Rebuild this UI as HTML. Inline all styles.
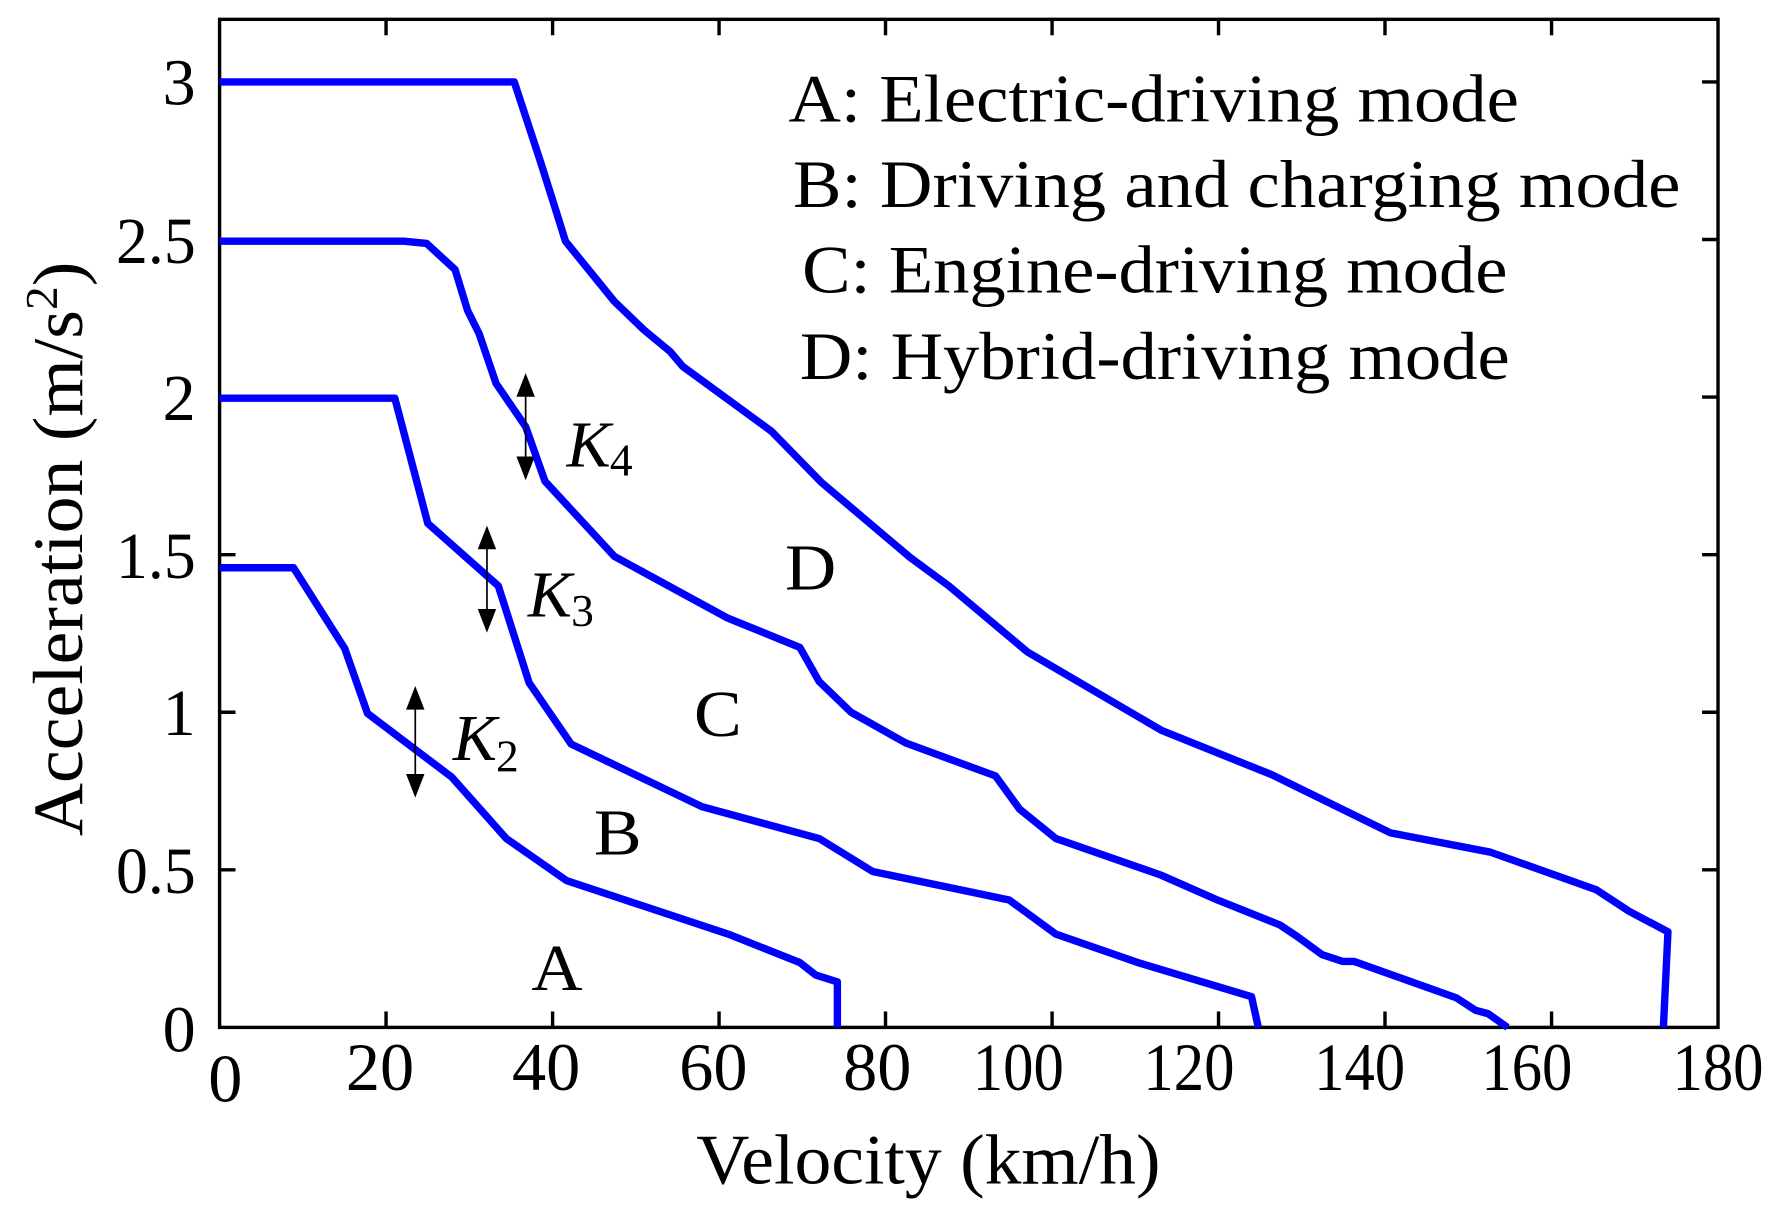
<!DOCTYPE html>
<html><head><style>html,body{margin:0;padding:0;background:#fff}svg{display:block}</style></head>
<body>
<svg width="1784" height="1219" viewBox="0 0 1568 1071.4" preserveAspectRatio="none" xmlns="http://www.w3.org/2000/svg" font-family="Liberation Serif, serif">
<rect x="193" y="17" width="1317" height="886" fill="none" stroke="#000" stroke-width="3"/>
<g stroke="#000" stroke-width="3">
<line x1="339.3" y1="903" x2="339.3" y2="889"/><line x1="485.7" y1="903" x2="485.7" y2="889"/><line x1="632" y1="903" x2="632" y2="889"/><line x1="778.3" y1="903" x2="778.3" y2="889"/><line x1="924.7" y1="903" x2="924.7" y2="889"/><line x1="1071" y1="903" x2="1071" y2="889"/><line x1="1217.3" y1="903" x2="1217.3" y2="889"/><line x1="1363.7" y1="903" x2="1363.7" y2="889"/>
<line x1="339.3" y1="17" x2="339.3" y2="31"/><line x1="485.7" y1="17" x2="485.7" y2="31"/><line x1="632" y1="17" x2="632" y2="31"/><line x1="778.3" y1="17" x2="778.3" y2="31"/><line x1="924.7" y1="17" x2="924.7" y2="31"/><line x1="1071" y1="17" x2="1071" y2="31"/><line x1="1217.3" y1="17" x2="1217.3" y2="31"/><line x1="1363.7" y1="17" x2="1363.7" y2="31"/>
<line x1="193" y1="764.5" x2="207" y2="764.5"/><line x1="193" y1="626" x2="207" y2="626"/><line x1="193" y1="487.5" x2="207" y2="487.5"/><line x1="193" y1="349" x2="207" y2="349"/><line x1="193" y1="210.5" x2="207" y2="210.5"/><line x1="193" y1="72" x2="207" y2="72"/>
<line x1="1510" y1="764.5" x2="1496" y2="764.5"/><line x1="1510" y1="626" x2="1496" y2="626"/><line x1="1510" y1="487.5" x2="1496" y2="487.5"/><line x1="1510" y1="349" x2="1496" y2="349"/><line x1="1510" y1="210.5" x2="1496" y2="210.5"/><line x1="1510" y1="72" x2="1496" y2="72"/>
</g>
<g fill="none" stroke="#0000ff" stroke-width="6.5" stroke-linejoin="round">
<polyline points="193,499 258,499 303,570 323,627 397,683 445,737 498,774 640,821 703,846 717,857 736,863 736,903"/>
<polyline points="193,350 347,350 376,460 438,515 465,600 502,654 617,709 720,737 767,766 887,791 928,821 1000,846 1100,876 1106,903"/>
<polyline points="193,212 355,212 375,214 400,237 411,273 421,293 436,337 462,375 479,423 540,489 639,543 703,569 720,599 748,626 796,653 875,682 896,711 928,737 1020,769 1070,791 1125,813 1140,823 1162,839 1180,845 1190,845 1280,877 1297,888 1308,891 1325,903"/>
<polyline points="193,72 452,72 475,142 487,180 497,212 540,265 566,290 589,309 600,322 678,379 722,424 800,490 834,515 903,573 1021,642 1118,681 1222,732 1310,749 1403,782 1432,801 1466,819 1462,903"/>
</g>
<g stroke="#000" stroke-width="1.5" fill="#000">
<line x1="462" y1="340" x2="462" y2="410"/><polygon points="462,330 455,348 469,348"/><polygon points="462,420 455,402 469,402"/>
<line x1="428" y1="474" x2="428" y2="544"/><polygon points="428,464 421,482 435,482"/><polygon points="428,554 421,536 435,536"/>
<line x1="365" y1="615" x2="365" y2="689"/><polygon points="365,605 358,623 372,623"/><polygon points="365,699 358,681 372,681"/>
</g>
<g font-size="58" fill="#000">
<text x="498" y="410" font-style="italic">K</text><text x="536" y="418" font-size="40">4</text>
<text x="464" y="542" font-style="italic">K</text><text x="502" y="550" font-size="40">3</text>
<text x="398" y="668" font-style="italic">K</text><text x="436" y="678" font-size="40">2</text>
<text x="690" y="518" textLength="45" lengthAdjust="spacingAndGlyphs">D</text>
<text x="610" y="647" textLength="42" lengthAdjust="spacingAndGlyphs">C</text>
<text x="522" y="751" textLength="42" lengthAdjust="spacingAndGlyphs">B</text>
<text x="467" y="870" textLength="45" lengthAdjust="spacingAndGlyphs">A</text>
</g>
<g font-size="60" fill="#000">
<text x="693" y="107" textLength="642" lengthAdjust="spacingAndGlyphs">A: Electric-driving mode</text>
<text x="697" y="182" textLength="780" lengthAdjust="spacingAndGlyphs">B: Driving and charging mode</text>
<text x="705" y="257" textLength="620" lengthAdjust="spacingAndGlyphs">C: Engine-driving mode</text>
<text x="703" y="333" textLength="624" lengthAdjust="spacingAndGlyphs">D: Hybrid-driving mode</text>
</g>
<g font-size="58" fill="#000" text-anchor="end">
<text x="172" y="92">3</text>
<text x="172" y="231" textLength="70" lengthAdjust="spacingAndGlyphs">2.5</text>
<text x="172" y="369">2</text>
<text x="172" y="508" textLength="70" lengthAdjust="spacingAndGlyphs">1.5</text>
<text x="172" y="646">1</text>
<text x="172" y="785" textLength="70" lengthAdjust="spacingAndGlyphs">0.5</text>
<text x="172" y="924">0</text>
</g>
<g font-size="60" fill="#000" text-anchor="middle">
<text x="198" y="968">0</text>
<text x="334" y="958">20</text>
<text x="480" y="958">40</text>
<text x="627" y="958">60</text>
<text x="771" y="958">80</text>
<text x="895" y="958" textLength="80" lengthAdjust="spacingAndGlyphs">100</text>
<text x="1045" y="958" textLength="80" lengthAdjust="spacingAndGlyphs">120</text>
<text x="1195" y="958" textLength="80" lengthAdjust="spacingAndGlyphs">140</text>
<text x="1342" y="958" textLength="80" lengthAdjust="spacingAndGlyphs">160</text>
<text x="1510" y="958" textLength="80" lengthAdjust="spacingAndGlyphs">180</text>
</g>
<text x="612" y="1040" font-size="62" textLength="408" lengthAdjust="spacingAndGlyphs">Velocity (km/h)</text>
<text transform="translate(72,735) rotate(-90)" font-size="62" textLength="505" lengthAdjust="spacingAndGlyphs">Acceleration (m/s<tspan font-size="40" dy="-22">2</tspan><tspan dy="22">)</tspan></text>
</svg>
</body></html>
